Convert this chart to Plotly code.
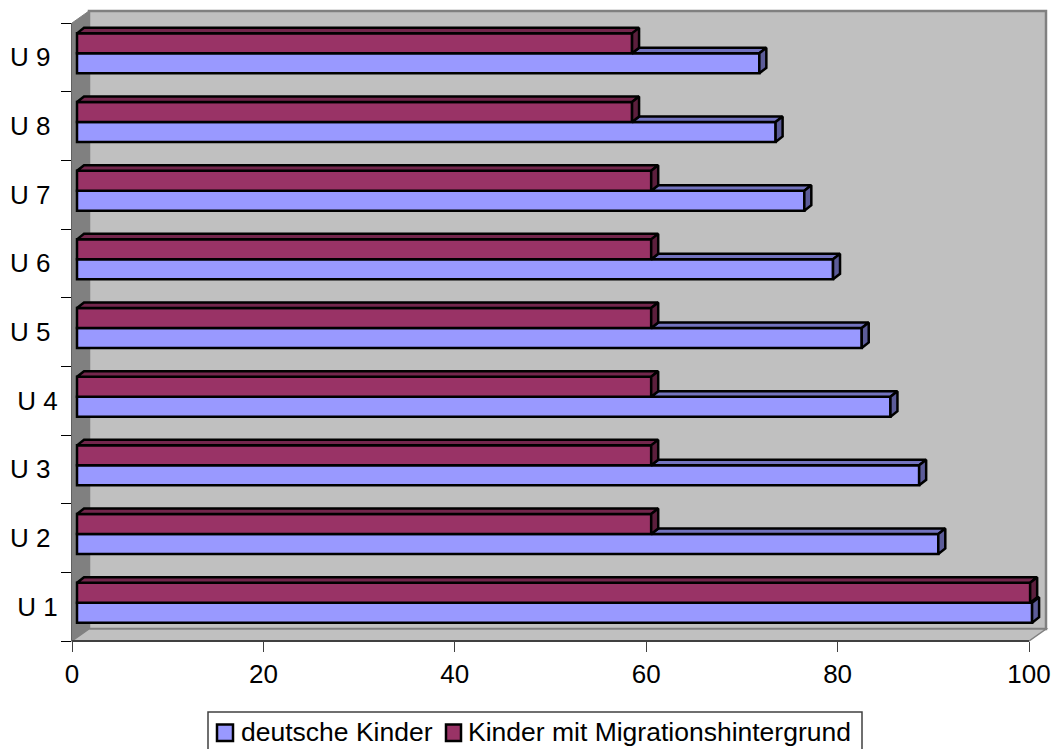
import plotly.graph_objects as go

categories = ["U 1", "U 2\u00a0", "U 3\u00a0", "U 4", "U 5\u00a0", "U 6\u00a0", "U 7\u00a0", "U 8\u00a0", "U 9\u00a0"]
deutsche = [99.8, 90, 88, 85, 82, 79, 76, 73, 71.3]
migration = [99.6, 60, 60, 60, 60, 60, 60, 58, 58]
x_ticks = [0, 20, 40, 60, 80, 100]
series_names = ["deutsche Kinder", "Kinder mit Migrationshintergrund"]

W, H = 1054, 749
L, R0, T, B = 72, 1029, 23, 641
ppx = (R0 - L) / 100
ppy = (B - T) / 9
R = W
x_max = (R - L) / ppx

FONT = dict(family="Liberation Sans, Arial, sans-serif", size=26, color="black")
LEGEND_FONT = dict(family="Liberation Sans, Arial, sans-serif", size=26.5, color="black")
BLUE, BLUE_TOP, BLUE_SIDE = "#9999FF", "#7373BF", "#5C5C99"
RED, RED_TOP, RED_SIDE = "#993366", "#73264C", "#5C1F3D"

base = 5 / ppx
depth_x = 7 / ppx
depth_y = 5.5 / ppy
bottom, thick = -0.233, 0.291


def px(v):
    return (v - L) / (R - L)


def py(v):
    return 1 - (v - T) / (B - T)


def poly(path):
    return " ".join(("M" if i == 0 else "L") + f"{px(a):.5f},{py(b):.5f}" for i, (a, b) in enumerate(path)) + " Z"


def paper_rect(x0, y0, x1, y1, fill, line, width):
    return dict(type="rect", xref="paper", yref="paper", layer="above", fillcolor=fill,
                line=dict(color=line, width=width), x0=px(x0), x1=px(x1), y0=py(y0), y1=py(y1))


dx, dy = 17, 12
shapes = [
    dict(type="path", xref="paper", yref="paper", layer="below", fillcolor="#C0C0C0",
         line=dict(color="#808080", width=2.5),
         path=poly([(L + dx, T - dy), (R0 + dx, T - dy), (R0 + dx, B - dy), (L + dx, B - dy)])),
    dict(type="path", xref="paper", yref="paper", layer="below", fillcolor="#808080",
         line=dict(color="#808080", width=1),
         path=poly([(L, T), (L + dx, T - dy), (L + dx, B - dy), (L, B)])),
    dict(type="path", xref="paper", yref="paper", layer="below", fillcolor="#C0C0C0",
         line=dict(color="#808080", width=1.5),
         path=poly([(L, B), (L + dx, B - dy), (R0 + dx, B - dy), (R0, B)])),
    dict(type="line", xref="x", yref="paper", layer="above", x0=x_ticks[0], x1=x_ticks[-1], y0=0, y1=0,
         line=dict(color="#404040", width=2)),
    paper_rect(208, 712, 862, 753, "white", "#404040", 1.5),
    paper_rect(217, 724.5, 233, 741, BLUE, "black", 2.5),
    paper_rect(446, 724.5, 461, 741, RED, "black", 2.5),
]
annotations = [
    dict(xref="paper", yref="paper", x=px(239), y=py(732), text=series_names[0], showarrow=False,
         xanchor="left", yanchor="middle", font=LEGEND_FONT),
    dict(xref="paper", yref="paper", x=px(466), y=py(732), text=series_names[1], showarrow=False,
         xanchor="left", yanchor="middle", font=LEGEND_FONT),
]


def faces(start, stop, y0):
    xs_top, ys_top, xs_side, ys_side = [], [], [], []
    for i, (a, b) in enumerate(zip(start, stop)):
        yt = i + y0
        xs_top += [a, b, b + depth_x, a + depth_x, a, None]
        ys_top += [yt, yt, yt + depth_y, yt + depth_y, yt, None]
        xs_side += [b, b + depth_x, b + depth_x, b, b, None]
        ys_side += [yt, yt + depth_y, yt + depth_y - thick, yt - thick, yt, None]
    return xs_top, ys_top, xs_side, ys_side


fig = go.Figure()
fig.add_bar(orientation="h", name=series_names[0], y=categories, x=deutsche, base=base,
            offset=bottom, width=thick, marker=dict(color=BLUE, line=dict(color="black", width=2.5)))
fig.add_bar(orientation="h", name=series_names[1], y=categories, x=migration, base=base,
            offset=bottom + thick, width=thick, marker=dict(color=RED, line=dict(color="black", width=2.5)))

blue_end = [base + v for v in deutsche]
red_end = [base + v for v in migration]
red_start = [base] * len(migration)
tb = faces(red_end, blue_end, bottom + thick)
tr = faces(red_start, red_end, bottom + 2 * thick)
for xs, ys, col in [(tb[0], tb[1], BLUE_TOP), (tb[2], tb[3], BLUE_SIDE), (tr[0], tr[1], RED_TOP), (tr[2], tr[3], RED_SIDE)]:
    fig.add_scatter(x=xs, y=ys, yaxis="y2", mode="lines", fill="toself", fillcolor=col,
                    line=dict(color="black", width=2.5), showlegend=False, hoverinfo="skip")

fig.update_layout(
    width=W, height=H, autosize=False, barmode="overlay", showlegend=False,
    margin=dict(l=L, r=0, t=T, b=H - B, pad=0, autoexpand=False),
    paper_bgcolor="white", plot_bgcolor="rgba(0,0,0,0)", font=FONT, shapes=shapes, annotations=annotations,
    xaxis=dict(range=[0, x_max], tickmode="array", tickvals=x_ticks, ticks="outside", ticklen=10, tickwidth=1,
               tickcolor="#404040", showgrid=False, zeroline=False, showline=False, tickfont=FONT),
    yaxis=dict(type="category", categoryorder="array", categoryarray=categories, range=[-0.5, 8.5],
               tickson="boundaries", ticks="outside", ticklen=10, tickwidth=1, tickcolor="black", ticklabelstandoff=8,
               showgrid=False, zeroline=False, showline=True, linecolor="#606060", linewidth=1, tickfont=FONT),
    yaxis2=dict(overlaying="y", range=[-0.5, 8.5], visible=False),
)
fig.write_html("out.html", config=dict(displayModeBar=False), post_script="document.body.style.margin='0';")
